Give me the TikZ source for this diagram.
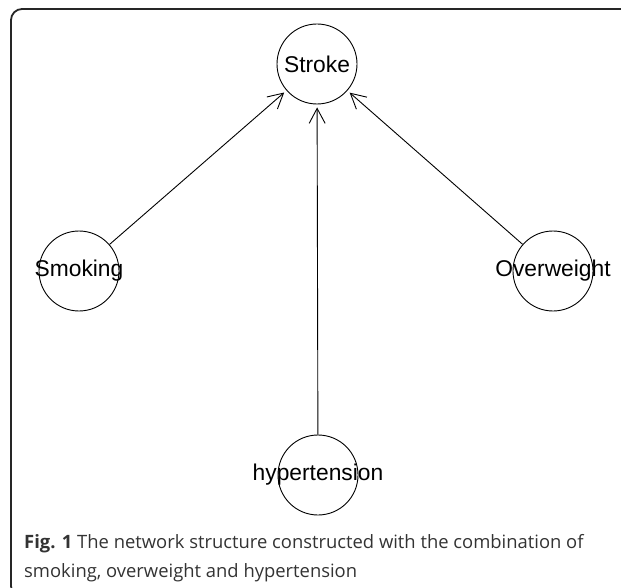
\documentclass[tikz,border=0pt]{standalone}
\usepackage{fontspec}
\setmainfont{Liberation Sans}
\newfontfamily\capfont{Open Sans}
\usetikzlibrary{arrows.meta}
\begin{document}
\begin{tikzpicture}[x=1pt,y=-1pt,
  vtx/.style={circle,draw,line width=0.9pt,minimum size=80pt,inner sep=0pt},
  vlab/.style={font=\fontsize{22.8}{26}\selectfont,inner sep=0pt},
  edge/.style={line width=0.9pt,-{Straight Barb[length=15pt,width=16pt,line width=0.9pt]},shorten >=3pt},
  captext/.style={anchor=base west,inner sep=0pt,text=black!80,font=\capfont\fontsize{18.4}{22}\selectfont}]
\useasboundingbox (0,0) rectangle (621,588);
\begin{scope}
\clip (0,0) rectangle (621,588);
\draw[line width=1.8pt,black!85,rounded corners=11pt] (11,9) rectangle (700,597);
\end{scope}
\node[vtx,label={[vlab]center:Stroke}] (stroke) at (317,64) {};
\node[vtx,label={[vlab]center:Smoking}] (smoking) at (79,271) {};
\node[vtx,label={[vlab]center:Overweight}] (over) at (553,271) {};
\node[vtx,label={[vlab]center:hypertension}] (hyper) at (318,475) {};
\draw[edge] (smoking) -- (stroke);
\draw[edge] (over) -- (stroke);
\draw[edge] (hyper) -- (stroke);
\node[captext] (cap1) at (24,548) {\textbf{Fig. 1} The network structure constructed with the combination of};
\node[captext] (cap2) at (24,577) {smoking, overweight and hypertension};
\end{tikzpicture}
\end{document}
